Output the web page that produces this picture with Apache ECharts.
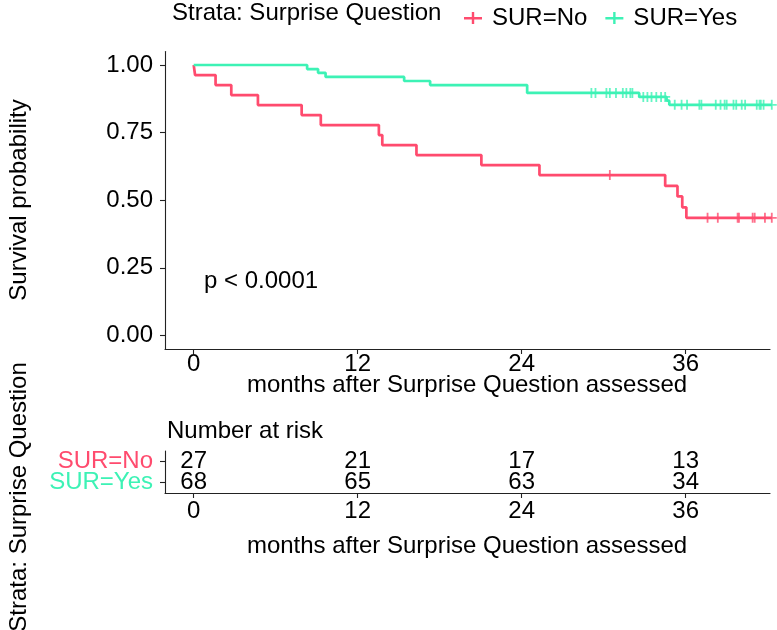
<!DOCTYPE html>
<html>
<head>
<meta charset="utf-8">
<script src="https://cdn.jsdelivr.net/npm/echarts@6/dist/echarts.min.js"></script>
<style>
html,body{margin:0;padding:0;background:#fff;}
#chart{width:777px;height:630px;}
</style>
</head>
<body>
<div id="chart"></div>
<script>
// ---- data ----
const noTimes  = [0, 0.1, 1.6, 2.75, 4.7, 7.9, 9.3, 13.55, 13.8, 16.3, 21.05, 25.3, 34.5, 35.4, 35.75, 36.05, 42.3];
const noSurv   = [1, 0.963, 0.926, 0.889, 0.852, 0.815, 0.778, 0.741, 0.704, 0.667, 0.630, 0.593, 0.553, 0.514, 0.474, 0.435, 0.435];
const noCensor = [30.45, 37.6, 38.35, 39.8, 39.9, 40.9, 41.05, 41.8, 42.3];

const yesTimes  = [0, 8.3, 9.1, 9.65, 15.4, 17.3, 24.4, 32.6, 34.6, 34.8, 42.3];
const yesSurv   = [1, 0.985, 0.971, 0.956, 0.941, 0.926, 0.897, 0.882, 0.868, 0.853, 0.853];
const yesCensor = [29.1, 29.4, 30.2, 30.45, 30.9, 31.4, 31.66, 31.95, 32.1,
                   32.9, 33.2, 33.5, 33.85, 34.2, 34.5,
                   35.2, 35.7, 36.1, 37.0, 37.15, 38.2, 38.55, 38.85, 39.0, 39.5, 39.7, 40.1, 40.35,
                   41.2, 41.4, 41.5, 41.7, 42.3];

const strata     = ['SUR=No', 'SUR=Yes'];
const riskTimes  = [0, 12, 24, 36];
const riskNo     = [27, 21, 17, 13];
const riskYes    = [68, 65, 63, 34];
const xTicks     = [0, 12, 24, 36];
const yTicks     = [0, 0.25, 0.5, 0.75, 1];
const pText      = 'p < 0.0001';
const xTitle     = 'months after Surprise Question assessed';

// ---- styling ----
const RED = '#FF4B6E', TEAL = '#3DF2B5';
const FONT = "'Liberation Sans', Arial, Helvetica, sans-serif";
const FS = 24;
const TXT = '#000';
const plusIcon = 'path://M0,5 L18,5 L18,7.4 L0,7.4 Z M7.8,0 L10.2,0 L10.2,12 L7.8,12 Z';
const plusMark = 'path://M0,4.1 L10,4.1 L10,5.9 L0,5.9 Z M4.1,0 L5.9,0 L5.9,10 L4.1,10 Z';

function survAt(times, surv, t) {
  let v = surv[0];
  for (let i = 0; i < times.length; i++) { if (times[i] <= t) v = surv[i]; }
  return v;
}
const pairs = (a, b) => a.map((t, i) => [t, b[i]]);

const xMin = -2.1, xMax = 42.17;
const axisLineStyle = { color: '#222', width: 1.1 };

function xAxisCfg(gridIndex, margin) {
  return {
    type: 'value', gridIndex, min: xMin, max: xMax,
    axisLine: { show: true, onZero: false, lineStyle: axisLineStyle },
    axisTick: { show: true, length: 5, lineStyle: axisLineStyle, customValues: xTicks },
    axisLabel: { customValues: xTicks, fontSize: FS, color: TXT, fontFamily: FONT, margin },
    splitLine: { show: false }
  };
}

const chart = echarts.init(document.getElementById('chart'), null, { renderer: 'canvas' });
const option = {
  animation: false,
  backgroundColor: '#fff',
  textStyle: { fontFamily: FONT },
  grid: [
    { left: 165, right: 7, top: 51.5, height: 297.5, containLabel: false },
    { left: 165, right: 7, top: 451, height: 42, containLabel: false }
  ],
  xAxis: [ xAxisCfg(0, 3), xAxisCfg(1, 6) ],
  yAxis: [
    {
      type: 'value', gridIndex: 0, min: -0.05, max: 1.05,
      axisLine: { show: true, onZero: false, lineStyle: axisLineStyle },
      axisTick: { show: true, length: 5, lineStyle: axisLineStyle, customValues: yTicks },
      axisLabel: { customValues: yTicks, fontSize: FS, color: TXT, fontFamily: FONT, margin: 12,
                   formatter: v => v.toFixed(2) },
      splitLine: { show: false }
    },
    {
      type: 'category', gridIndex: 1, data: strata.slice().reverse(),
      axisLine: { show: true, onZero: false, lineStyle: axisLineStyle },
      axisTick: { show: true, length: 5, alignWithLabel: true, interval: 0, lineStyle: axisLineStyle },
      axisLabel: { fontSize: FS, fontFamily: FONT, margin: 12, interval: 0, hideOverlap: false,
                   color: v => (v === 'SUR=No' ? RED : TEAL) },
      splitLine: { show: false }
    }
  ],
  legend: {
    left: 459, top: 1, itemWidth: 18, itemHeight: 12, itemGap: 18,
    data: strata.map(n => ({ name: n, icon: plusIcon })),
    textStyle: { fontSize: FS, color: TXT, fontFamily: FONT, padding: [0, 0, 0, 5] },
    selectedMode: false
  },
  graphic: [
    { type: 'text', left: 172, top: 1, style: { text: 'Strata: Surprise Question', font: FS + 'px ' + FONT, fill: TXT } },
    { type: 'text', x: 204, y: 281, style: { text: pText, font: FS + 'px ' + FONT, fill: TXT, textVerticalAlign: 'middle' } },
    { type: 'text', x: 467, y: 385, style: { text: xTitle, font: FS + 'px ' + FONT, fill: TXT, textAlign: 'center', textVerticalAlign: 'middle' } },
    { type: 'text', x: 167, y: 431, style: { text: 'Number at risk', font: FS + 'px ' + FONT, fill: TXT, textVerticalAlign: 'middle' } },
    { type: 'text', x: 467, y: 546, style: { text: xTitle, font: FS + 'px ' + FONT, fill: TXT, textAlign: 'center', textVerticalAlign: 'middle' } },
    { type: 'text', x: 19, y: 200, rotation: Math.PI / 2,
      style: { text: 'Survival probability', font: FS + 'px ' + FONT, fill: TXT, textAlign: 'center', textVerticalAlign: 'middle' } },
    { type: 'text', x: 19, y: 497, rotation: Math.PI / 2,
      style: { text: 'Strata: Surprise Question', font: FS + 'px ' + FONT, fill: TXT, textAlign: 'center', textVerticalAlign: 'middle' } }
  ],
  series: [
    { name: 'SUR=No', type: 'line', step: 'end', xAxisIndex: 0, yAxisIndex: 0, clip: false,
      data: pairs(noTimes, noSurv), showSymbol: false, symbol: 'none',
      itemStyle: { color: RED }, lineStyle: { color: RED, width: 2.7 } },
    { name: 'SUR=Yes', type: 'line', step: 'end', xAxisIndex: 0, yAxisIndex: 0, clip: false,
      data: pairs(yesTimes, yesSurv), showSymbol: false, symbol: 'none',
      itemStyle: { color: TEAL }, lineStyle: { color: TEAL, width: 2.7 } },
    { name: 'SUR=No', type: 'scatter', xAxisIndex: 0, yAxisIndex: 0, clip: false,
      symbol: plusMark, symbolSize: 10, itemStyle: { color: RED },
      data: noCensor.map(t => [t, survAt(noTimes, noSurv, t)]) },
    { name: 'SUR=Yes', type: 'scatter', xAxisIndex: 0, yAxisIndex: 0, clip: false,
      symbol: plusMark, symbolSize: 10, itemStyle: { color: TEAL },
      data: yesCensor.map(t => [t, survAt(yesTimes, yesSurv, t)]) },
    { name: 'risk', type: 'scatter', xAxisIndex: 1, yAxisIndex: 1, symbolSize: 1, silent: true,
      itemStyle: { color: '#fff', opacity: 1 },
      data: riskTimes.map((t, i) => [t, 'SUR=No', riskNo[i]])
        .concat(riskTimes.map((t, i) => [t, 'SUR=Yes', riskYes[i]])),
      label: { show: true, position: 'inside', formatter: p => String(p.value[2]),
               fontSize: FS, color: TXT, opacity: 1, fontFamily: FONT } }
  ]
};
chart.setOption(option);
</script>
</body>
</html>
